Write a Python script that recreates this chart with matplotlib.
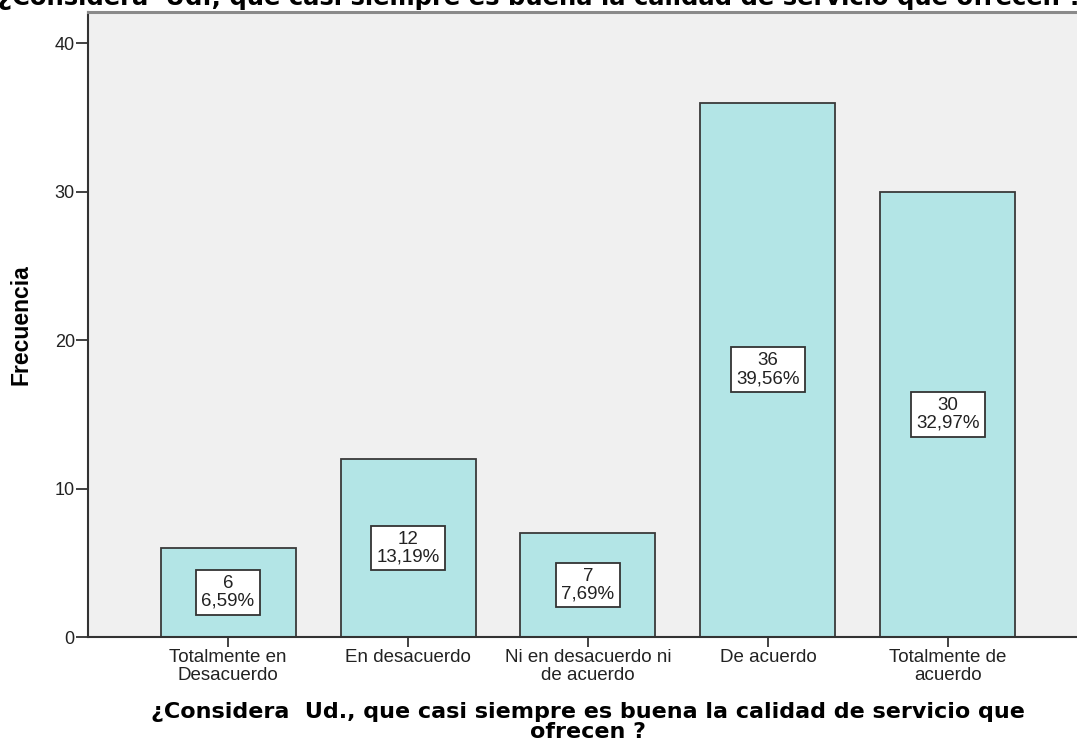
import matplotlib.pyplot as plt
import numpy as np

categories = ['Totalmente en\nDesacuerdo', 'En desacuerdo', 'Ni en desacuerdo ni\nde acuerdo',
              'De acuerdo', 'Totalmente de\nacuerdo']
counts = [6, 12, 7, 36, 30]
percents = ['6,59%', '13,19%', '7,69%', '39,56%', '32,97%']
yticks = [0, 10, 20, 30, 40]
question = '¿Considera  Ud., que casi siempre es buena la calidad de servicio que ofrecen ?'
xlabel_text = '¿Considera  Ud., que casi siempre es buena la calidad de servicio que\nofrecen ?'

plt.rcParams['font.family'] = ['Liberation Sans', 'DejaVu Sans']

W, H = 1077, 750
fig = plt.figure(figsize=(W / 100, H / 100), dpi=100)
ax = fig.add_axes([88 / W, 113 / H, 1 - 88 / W, 625 / H])
ax.set_facecolor('#f0f0f0')

x = np.arange(len(categories))
ax.bar(x, counts, width=0.75, color='#b3e5e6', edgecolor='#3a3a3a', linewidth=1.3, zorder=2)

# value boxes in the middle of each bar
for xi, c, p in zip(x, counts, percents):
    ax.text(xi, c / 2, f'{c}\n{p}', ha='center', va='center', fontsize=13.5,
            linespacing=1.05, color='#222222', zorder=3,
            bbox=dict(boxstyle='square,pad=0.27', fc='white', ec='#333333', lw=1.3))

ax.set_xlim(-0.778, 4.717)
ax.set_ylim(0, 42.1)
ax.set_yticks(yticks)
ax.set_xticks(x)
ax.set_xticklabels(categories, fontsize=13.5, linespacing=1.0, color='#222222')
ax.tick_params(axis='y', labelsize=13, length=8.5, width=1.3, colors='#333333',
               labelcolor='#222222', pad=1)
ax.tick_params(axis='x', length=7, width=1.3, colors='#333333', labelcolor='#222222', pad=2)

ax.spines['right'].set_visible(False)
ax.spines['top'].set_color('#8a8a8a')
ax.spines['top'].set_linewidth(2.2)
for s in ['left', 'bottom']:
    ax.spines[s].set_color('#333333')
    ax.spines[s].set_linewidth(1.5)

ax.set_ylabel('Frecuencia', fontsize=16.5, fontweight='bold')
ax.yaxis.set_label_coords(-(88 - 21) / (W - 88), 0.5)
ax.yaxis.label.set_va('center')

ax.set_xlabel(xlabel_text, fontsize=16, fontweight='bold', family='DejaVu Sans', linespacing=0.98)
ax.xaxis.set_label_coords((588 - 88) / (W - 88), -(702 - 637) / 625)
ax.xaxis.label.set_va('top')

# title clipped at the top edge, as in the original export
fig.text(540 / W, 1 - 5 / H, question, ha='center', va='baseline', fontsize=17.5,
         fontweight='bold', family='DejaVu Sans')

fig.savefig('out.png', dpi=100)
